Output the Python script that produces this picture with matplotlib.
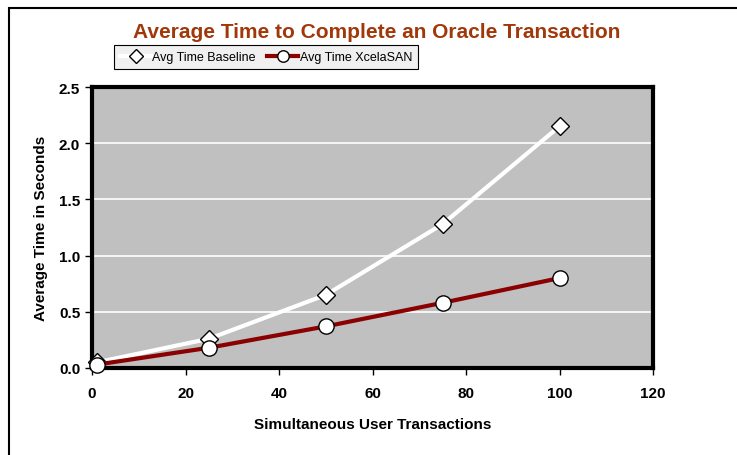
import matplotlib
matplotlib.use("Agg")
import matplotlib.pyplot as plt
from matplotlib.patches import Rectangle

plt.rcParams['font.family'] = ['Liberation Sans', 'DejaVu Sans']

# --- data ---
users = [1, 25, 50, 75, 100]
baseline = [0.05, 0.26, 0.65, 1.28, 2.15]
xcelasan = [0.03, 0.18, 0.37, 0.58, 0.80]

title = "Average Time to Complete an Oracle Transaction"
x_label = "Simultaneous User Transactions"
y_label = "Average Time in Seconds"
x_ticks = [0, 20, 40, 60, 80, 100, 120]
y_ticks = [0.0, 0.5, 1.0, 1.5, 2.0, 2.5]

fig = plt.figure(figsize=(7.37, 4.56), dpi=100)
ax = fig.add_axes([92 / 737, 1 - 369 / 456, (653 - 92) / 737, (369 - 88) / 456])

# outer chart border (only left / top visible in the crop)
fig.patches.append(Rectangle((9 / 737, -0.1), 1.2, 1 - 9 / 456 + 0.1,
                             transform=fig.transFigure, fill=False,
                             edgecolor='black', linewidth=1.5))

ax.set_facecolor('#C0C0C0')
for y in y_ticks[1:-1]:
    ax.axhline(y, color='white', linewidth=1.2, zorder=1)

ax.plot(users, baseline, color='white', linewidth=3, marker='D', markersize=9.5,
        markerfacecolor='white', markeredgecolor='black', markeredgewidth=1,
        label='Avg Time Baseline', zorder=3, clip_on=False)
ax.plot(users, xcelasan, color='#8B0000', linewidth=3, marker='o', markersize=11,
        markerfacecolor='white', markeredgecolor='black', markeredgewidth=1,
        label='Avg Time XcelaSAN', zorder=4, clip_on=False)

ax.set_xlim(0, 120)
ax.set_ylim(0, 2.5)
ax.set_xticks(x_ticks)
ax.set_yticks(y_ticks)
ax.set_yticklabels([f"{v:.1f}" for v in y_ticks])
ax.tick_params(labelsize=11, width=1, length=5, direction='out', colors='black')
for lab in ax.get_xticklabels() + ax.get_yticklabels():
    lab.set_fontweight('bold')
ax.tick_params(axis='x', pad=8)

for s in ax.spines.values():
    s.set_linewidth(3)
    s.set_color('black')

ax.set_xlabel(x_label, fontsize=11, fontweight='bold', labelpad=12)
ax.set_ylabel(y_label, fontsize=11, fontweight='bold', labelpad=8)

fig.text(377 / 737, 1 - 33 / 456, title, ha='center', va='center',
         fontsize=15, fontweight='bold', color='#A0380A')

leg = fig.legend(loc='center', bbox_to_anchor=(266 / 737, 1 - 58 / 456), ncol=2,
                 fontsize=9, frameon=True, fancybox=False, edgecolor='black',
                 facecolor='#F0F0F0', framealpha=1, handlelength=2.5,
                 markerscale=0.75, columnspacing=0.9, borderpad=0.5,
                 handletextpad=0.1)
leg.get_frame().set_linewidth(0.8)

fig.savefig("out.png", dpi=100)
